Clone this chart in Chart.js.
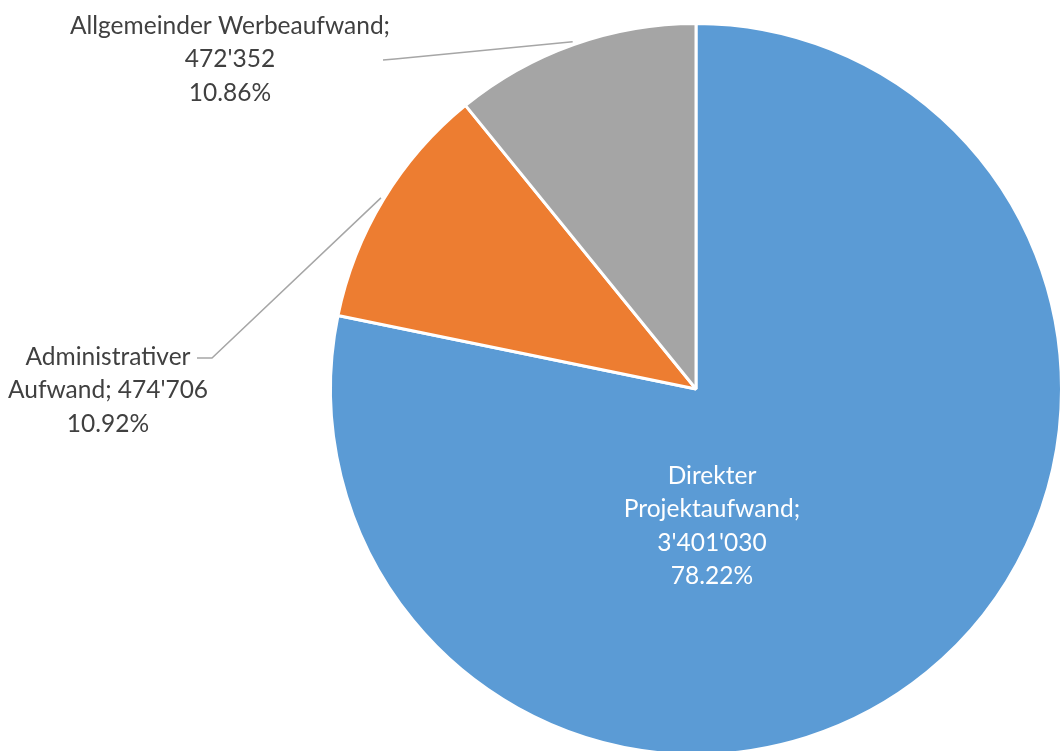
<!DOCTYPE html>
<html>
<head>
<meta charset="utf-8">
<script src="https://cdn.jsdelivr.net/npm/chart.js@4/dist/chart.umd.min.js"></script>
<style>
    html, body { margin: 0; padding: 0; background: #fff; }
    #wrap { width: 1060px; height: 751px; overflow: hidden; position: relative; }
    #pie { display: block; }
</style>
</head>
<body>
<div id="wrap"><canvas id="pie" width="1080" height="780"></canvas></div>
<script>
// data
const categories = ['Direkter Projektaufwand', 'Administrativer Aufwand', 'Allgemeinder Werbeaufwand'];
const values = [3401030, 474706, 472352];
const percentLabels = ['78.22%', '10.92%', '10.86%'];
const valueLabels = ["3'401'030", "474'706", "472'352"];
const colors = ['#5B9BD5', '#ED7D31', '#A5A5A5'];

// label lines as they are wrapped in the picture
const labelLines = [
    ['Direkter', 'Projektaufwand;', valueLabels[0], percentLabels[0]],
    ['Administrativer', 'Aufwand; ' + valueLabels[1], percentLabels[1]],
    ['Allgemeinder Werbeaufwand;', valueLabels[2], percentLabels[2]]
];

// layout of the labels (center x, first line y) and leader elbows
const labelPos = [
    { x: 712, y: 476, color: '#ffffff' },
    { x: 108, y: 357, color: '#404040', elbow: [[197, 358], [212, 358]] },
    { x: 230, y: 26, color: '#404040', elbow: [[383, 60], [395, 59]] }
];
const lineHeight = 33.5;

const labelPlugin = {
    id: 'pieLabels',
    afterDatasetsDraw(chart) {
        const ctx = chart.ctx;
        const arcs = chart.getDatasetMeta(0).data;
        ctx.save();
        ctx.font = '24.5px Lato, "Open Sans", sans-serif';
        ctx.textAlign = 'center';
        ctx.textBaseline = 'middle';
        arcs.forEach((arc, i) => {
            let p = labelPos[i];
            if (p.elbow) {
                let mid = (arc.startAngle + arc.endAngle) / 2;
                let r = arc.outerRadius + 3;
                ctx.strokeStyle = '#A6A6A6';
                ctx.lineWidth = 1.5;
                ctx.beginPath();
                ctx.moveTo(p.elbow[0][0], p.elbow[0][1]);
                ctx.lineTo(p.elbow[1][0], p.elbow[1][1]);
                ctx.lineTo(arc.x + Math.cos(mid) * r, arc.y + Math.sin(mid) * r);
                ctx.stroke();
            }
            ctx.fillStyle = p.color;
            labelLines[i].forEach((t, j) => {
                ctx.fillText(t, p.x, p.y + j * lineHeight);
            });
        });
        ctx.restore();
    }
};

let ctx = document.getElementById('pie').getContext('2d');
let myChart = new Chart(ctx, {
    type: 'pie',
    data: {
        labels: categories,
        datasets: [{
            data: values,
            backgroundColor: colors,
            borderColor: '#ffffff',
            borderWidth: 3
        }]
    },
    options: {
        responsive: false,
        animation: false,
        layout: { padding: { left: 329, right: 17, top: 22, bottom: 24 } },
        plugins: {
            legend: { display: false },
            tooltip: { enabled: false }
        }
    },
    plugins: [labelPlugin]
});
</script>
</body>
</html>
